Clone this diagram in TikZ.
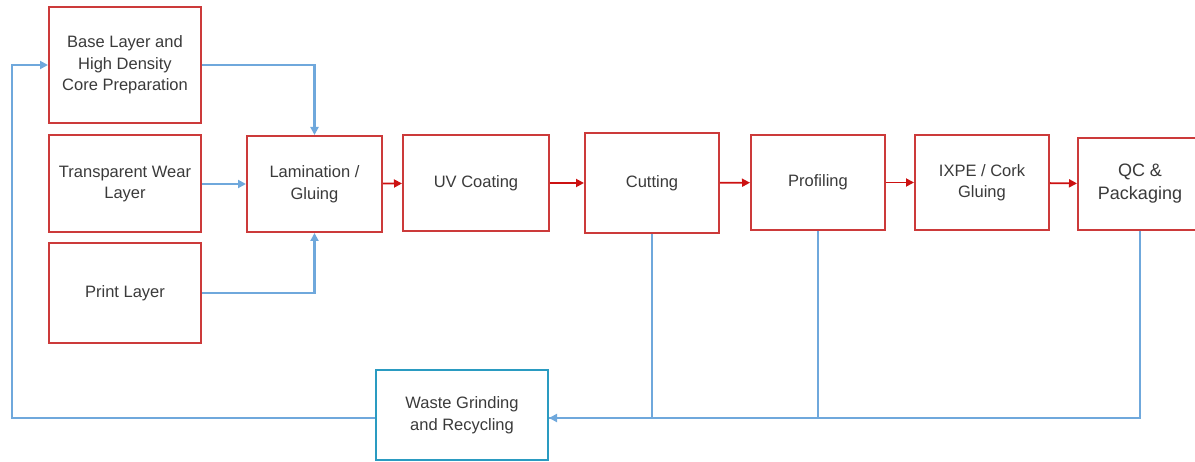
\documentclass[tikz,border=0pt]{standalone}
\usepackage{fontspec}
\setmainfont{Liberation Sans}
\usetikzlibrary{arrows.meta}
\definecolor{boxred}{HTML}{CC3A3A}
\definecolor{arrred}{HTML}{CC1111}
\definecolor{lineblue}{HTML}{6FA8DC}
\definecolor{wasteblue}{HTML}{2A9BC1}
\definecolor{txt}{HTML}{3A3A3A}
\begin{document}
\begin{tikzpicture}[x=1pt,y=-1pt,
  stepbox/.style={draw=boxred,line width=2pt,rectangle,align=center,text=txt,
     font=\fontsize{16.5}{21.5}\selectfont,inner sep=0pt,fill=white},
  wastebox/.style={stepbox,draw=wasteblue},
  redarr/.style={draw=arrred,line width=1.8pt,-{Triangle[length=8pt,width=8pt]}},
  bluearr/.style={draw=lineblue,line width=2.4pt,-{Triangle[length=8pt,width=8pt]}},
  blueline/.style={draw=lineblue,line width=2.4pt}]
\useasboundingbox (0,0) rectangle (1195,462);
\node[stepbox,minimum width=152pt,minimum height=116pt] (base) at (125,65) {Base Layer and\\High Density\\Core Preparation};
\node[stepbox,minimum width=152pt,minimum height=97pt] (trans) at (125,184) {Transparent Wear\\Layer};
\node[stepbox,minimum width=152pt,minimum height=100pt] (print) at (125,293) {Print Layer};
\node[stepbox,minimum width=135pt,minimum height=96pt] (lam) at (314.5,184) {Lamination /\\Gluing};
\node[stepbox,minimum width=146pt,minimum height=96pt] (uv) at (476,183) {UV Coating};
\node[stepbox,minimum width=134pt,minimum height=100pt] (cut) at (652,183) {Cutting};
\node[stepbox,minimum width=134pt,minimum height=95pt] (prof) at (818,182.5) {Profiling};
\node[stepbox,minimum width=134pt,minimum height=95pt] (ixpe) at (982,182.5) {IXPE / Cork\\Gluing};
\node[stepbox,minimum width=124pt,minimum height=92pt,font=\fontsize{18}{23}\selectfont] (qc) at (1140,184) {QC \&\\Packaging};
\node[wastebox,minimum width=172pt,minimum height=90pt] (waste) at (462,415) {Waste Grinding\\and Recycling};
\coordinate (lc) at (12,418);
\coordinate (wr) at ([yshift=-3pt]waste.east);
\coordinate (wl) at ([yshift=-3pt]waste.west);
% inputs
\draw[bluearr] (base.east) -| (lam.north);
\draw[bluearr] (trans.east) -- (lam.west);
\draw[bluearr] (print.east) -| (lam.south);
% main flow
\draw[redarr] (lam) -- (uv);
\draw[redarr] (uv) -- (cut);
\draw[redarr] (cut) -- (prof);
\draw[redarr] (prof) -- (ixpe);
\draw[redarr] (ixpe) -- (qc);
% waste
\draw[blueline] (cut.south) |- (wr);
\draw[blueline] (prof.south) |- (wr);
\draw[bluearr] (qc.south) |- (wr);
\draw[bluearr] (wl) -- (lc) |- (base.west);
\end{tikzpicture}
\end{document}
